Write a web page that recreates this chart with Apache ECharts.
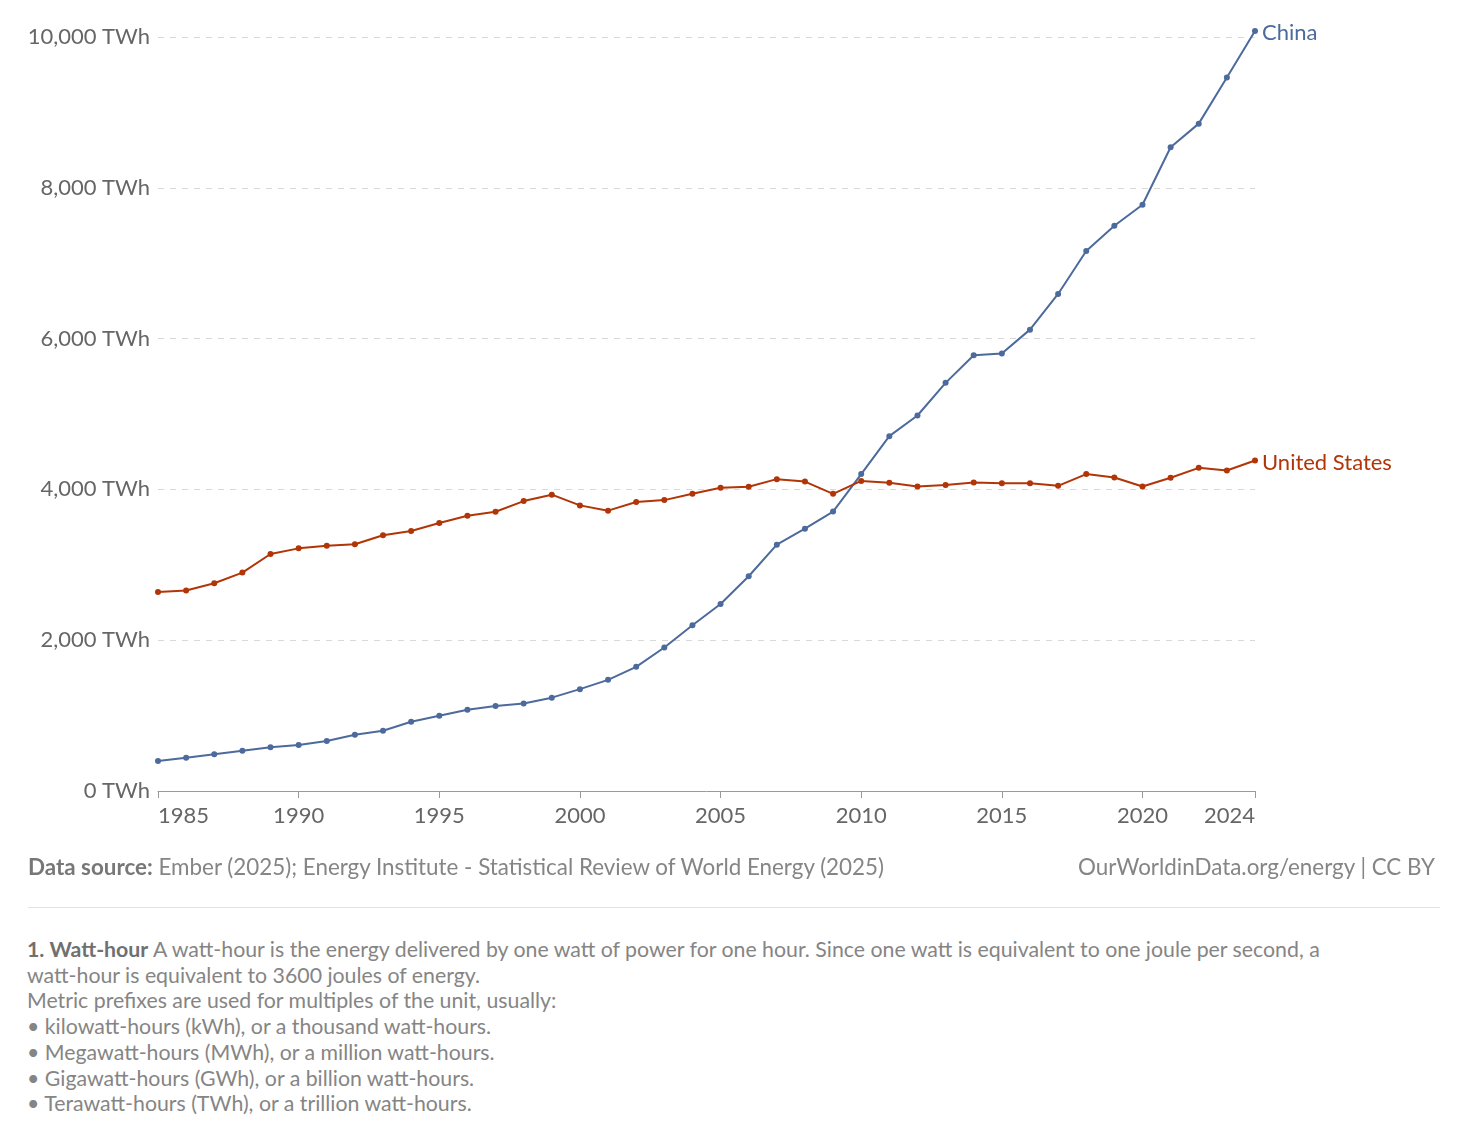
<!DOCTYPE html>
<html>
<head>
<meta charset="utf-8">
<script src="https://cdn.jsdelivr.net/npm/echarts@6/dist/echarts.min.js"></script>
<style>
  html, body { margin: 0; padding: 0; background: #fff; }
  body { width: 1468px; height: 1135px; position: relative; overflow: hidden; font-family: Lato, "Noto Sans", sans-serif; }
  #chart { position: absolute; left: 0; top: 0; width: 1468px; height: 900px; }
  .src { position: absolute; top: 853px; font-size: 22.4px; color: #858585; white-space: nowrap; }
  .src b { color: #777; font-weight: 700; }
  #sep { position: absolute; left: 28px; top: 907px; width: 1412px; height: 1px; background: #e3e3e3; }
  #note { position: absolute; left: 27px; top: 937px; font-size: 21.3px; line-height: 25.7px; color: #858585; white-space: nowrap; }
  #note b { color: #707070; font-weight: 700; }
</style>
</head>
<body>
<div id="chart"></div>
<div class="src" style="left:28px;"><b>Data source:</b> Ember (2025); Energy Institute - Statistical Review of World Energy (2025)</div>
<div class="src" style="right:33px;">OurWorldinData.org/energy | CC BY</div>
<div id="sep"></div>
<div id="note"><b>1. Watt-hour</b> A watt-hour is the energy delivered by one watt of power for one hour. Since one watt is equivalent to one joule per second, a<br>watt-hour is equivalent to 3600 joules of energy.<br>Metric prefixes are used for multiples of the unit, usually:<br>• kilowatt-hours (kWh), or a thousand watt-hours.<br>• Megawatt-hours (MWh), or a million watt-hours.<br>• Gigawatt-hours (GWh), or a billion watt-hours.<br>• Terawatt-hours (TWh), or a trillion watt-hours.</div>
<script>
const years = [1985,1986,1987,1988,1989,1990,1991,1992,1993,1994,1995,1996,1997,1998,1999,2000,2001,2002,2003,2004,2005,2006,2007,2008,2009,2010,2011,2012,2013,2014,2015,2016,2017,2018,2019,2020,2021,2022,2023,2024];
const china = [397,441,486,534,579,609,662,746,799,918,997,1077,1126,1161,1238,1351,1474,1647,1903,2199,2481,2848,3267,3479,3706,4203,4706,4980,5413,5779,5801,6119,6592,7161,7497,7775,8537,8851,9462,10081];
const unitedStates = [2640,2658,2755,2897,3143,3218,3254,3272,3391,3448,3554,3651,3704,3845,3930,3788,3718,3832,3858,3943,4022,4036,4136,4104,3941,4113,4087,4038,4057,4091,4083,4083,4047,4203,4158,4038,4154,4286,4250,4383];
const yTicks = [0,2000,4000,6000,8000,10000];
const seriesNames = ['China','United States'];
const seriesColors = ['#4c6a9c','#b13507'];

const chart = echarts.init(document.getElementById('chart'), null, {renderer: 'canvas'});
const mk = (name, vals, color) => ({
  name: name,
  type: 'line',
  data: years.map((y, i) => [y, vals[i]]),
  symbol: 'circle',
  symbolSize: 6,
  clip: false,
  lineStyle: { color: color, width: 2 },
  itemStyle: { color: color },
  endLabel: { show: true, formatter: '{a}', color: color, fontSize: 22, fontFamily: 'Lato', distance: 7, offset: [0, 2] },
  emphasis: { disabled: true },
  animation: false
});
chart.setOption({
  animation: false,
  grid: { left: 158, right: 213, top: 37, bottom: 109, containLabel: false },
  xAxis: {
    type: 'value',
    min: years[0],
    max: years[years.length - 1],
    interval: 5,
    axisLine: { show: true, lineStyle: { color: '#999', width: 1 } },
    axisTick: { show: true, length: 7, lineStyle: { color: '#999' } },
    splitLine: { show: false },
    axisLabel: {
      formatter: v => String(v),
      fontSize: 22, fontFamily: 'Lato', color: '#666', margin: 14,
      showMinLabel: true, showMaxLabel: true,
      alignMinLabel: 'left', alignMaxLabel: 'right'
    }
  },
  yAxis: {
    type: 'value',
    min: yTicks[0],
    max: yTicks[yTicks.length - 1],
    interval: 2000,
    axisLine: { show: false },
    axisTick: { show: false },
    splitLine: { show: true, lineStyle: { color: '#d9d9d9', type: [6, 6], width: 1 } },
    axisLabel: {
      formatter: v => v.toLocaleString('en-US') + ' TWh',
      fontSize: 22, fontFamily: 'Lato', color: '#666', margin: 8
    }
  },
  series: [mk(seriesNames[0], china, seriesColors[0]), mk(seriesNames[1], unitedStates, seriesColors[1])]
});
</script>
</body>
</html>
